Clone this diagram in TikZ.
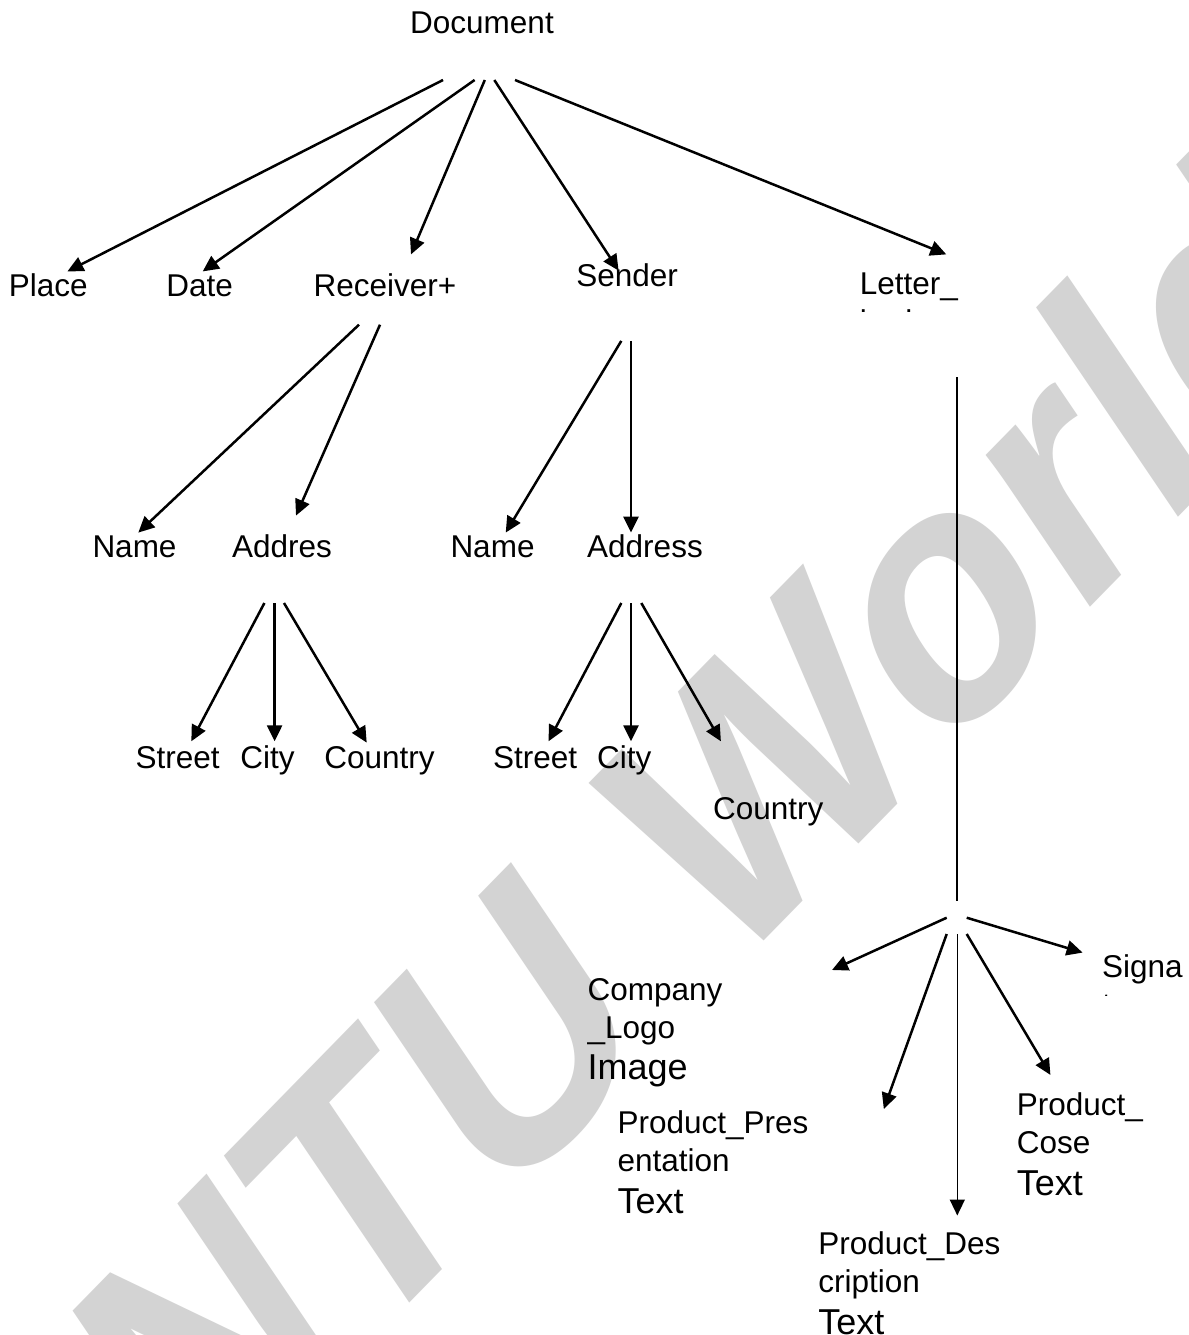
\documentclass[tikz,border=0pt]{standalone}
\usepackage{fontspec}
\setmainfont{Liberation Sans}
\usetikzlibrary{arrows.meta}
\definecolor{wmgray}{RGB}{211,211,211}
\newcommand{\bigtxt}[1]{{\fontsize{36}{42}\selectfont #1}}
\tikzset{
  lbl/.style={inner sep=0pt, anchor=base west, font=\fontsize{31.5}{38}\selectfont},
  % multi-line labels: anchored at the baseline of their LAST line
  multi/.style={lbl, align=left},
  arr/.style={line width=2.5pt, -{Triangle[length=16pt,width=15pt]}},
  thinarr/.style={line width=1.6pt, -{Triangle[length=16pt,width=15pt]}},
  plainline/.style={line width=1.6pt},
  wmark/.style={inner sep=0pt, anchor=base west, text=wmgray,
    font=\fontsize{326}{326}\selectfont\bfseries}
}
\begin{document}
\begin{tikzpicture}[x=1pt,y=-1pt]
\useasboundingbox (0,0) rectangle (1188,1335);
\fill[white] (0,0) rectangle (1188,1335);
% watermark
\begin{scope}
\clip (0,0) rectangle (1188,1335);
\node[wmark, cm={0.699,0.715,-0.6006,0.8864,(0,0)}] (wm) at (192,1526) {NTU World};
\end{scope}

% nodes
\node[lbl, anchor=base] (doc) at (482,34) {Document};
\node[lbl] (place) at (8.6,296) {Place};
\node[lbl] (date) at (166.1,296) {Date};
\node[lbl] (recv) at (313.5,296) {Receiver+};
\node[lbl] (send) at (576.2,286) {Sender};
\begin{scope}
\clip (840,230) rectangle (1000,311);
\node[multi] (letter) at (859.7,332) {Letter\_\\body};
\end{scope}
\node[lbl] (name1) at (92.3,557) {Name};
\node[lbl] (addr1) at (231.8,557) {Addres};
\node[lbl] (name2) at (450.3,557) {Name};
\node[lbl] (addr2) at (587,557) {Address};
\node[lbl] (street1) at (135.5,768) {Street};
\node[lbl] (city1) at (240.1,768) {City};
\node[lbl] (country1) at (324.2,768) {Country};
\node[lbl] (street2) at (492.8,768) {Street};
\node[lbl] (city2) at (596.9,768) {City};
\node[lbl] (country2) at (712.9,819) {Country};
\node[multi] (logo) at (587.4,1079) {Company\\\_Logo\\[3pt]\bigtxt{Image}};
\node[multi] (pres) at (617.4,1213) {Product\_Pres\\entation\\[4pt]\bigtxt{Text}};
\node[multi] (cose) at (1016.6,1195) {Product\_\\Cose\\[4pt]\bigtxt{Text}};
\node[multi] (desc) at (818.1,1334) {Product\_Des\\cription\\[4pt]\bigtxt{Text}};
\begin{scope}
\clip (1090,930) rectangle (1188,995);
\node[multi] (sign) at (1102,1015) {Signa\\ture};
\end{scope}

% connector end points
\coordinate (doc-a) at (443,80);
\coordinate (doc-b) at (474.6,80);
\coordinate (doc-c) at (484.8,80);
\coordinate (doc-d) at (494.3,80);
\coordinate (doc-e) at (515,80);
\coordinate (place-in) at (67.4,271.4);
\coordinate (date-in) at (202.7,271.4);
\coordinate (recv-in) at (411,254.4);
\coordinate (send-in) at (618.6,270.6);
\coordinate (letter-in) at (946.3,254.4);

\coordinate (recv-a) at (359,324.7);
\coordinate (recv-b) at (380,324.7);
\coordinate (name1-in) at (138.3,532.6);
\coordinate (addr1-in) at (296,515.6);

\coordinate (send-a) at (621.3,340.9);
\coordinate (send-b) at (631,340.9);
\coordinate (name2-in) at (505.7,532.6);
\coordinate (addr2-in) at (631,532.6);

\coordinate (letter-out) at (957,377);
\coordinate (hub-top) at (957,901);

\coordinate (addr1-a) at (264.4,603);
\coordinate (addr1-b) at (274.6,603);
\coordinate (addr1-c) at (284,603);
\coordinate (street1-in) at (191.3,741.3);
\coordinate (city1-in) at (274.6,741.3);
\coordinate (country1-in) at (366.7,742.6);

\coordinate (addr2-a) at (621.3,603);
\coordinate (addr2-b) at (631,603);
\coordinate (addr2-c) at (641.3,603);
\coordinate (street2-in) at (548.5,741.3);
\coordinate (city2-in) at (631,741.3);
\coordinate (country2-in) at (720.9,741.3);

\coordinate (hub-l) at (946.7,917.7);
\coordinate (hub-r) at (966.7,917.7);
\coordinate (hub-dl) at (946.7,934);
\coordinate (hub-d) at (957.3,934);
\coordinate (hub-dr) at (966.7,934);
\coordinate (logo-in) at (832,970);
\coordinate (sign-in) at (1082.6,952.6);
\coordinate (pres-in) at (883.8,1109);
\coordinate (desc-in) at (957.3,1215.5);
\coordinate (cose-in) at (1050.4,1074.9);

% connectors
\draw[arr] (doc-a) -- (place-in);
\draw[arr] (doc-b) -- (date-in);
\draw[arr] (doc-c) -- (recv-in);
\draw[arr] (doc-d) -- (send-in);
\draw[arr] (doc-e) -- (letter-in);

\draw[arr] (recv-a) -- (name1-in);
\draw[arr] (recv-b) -- (addr1-in);
\draw[arr] (send-a) -- (name2-in);
\draw[arr] (send-b) -- (addr2-in);

\draw[plainline] (letter-out) -- (hub-top);

\draw[arr] (addr1-a) -- (street1-in);
\draw[arr] (addr1-b) -- (city1-in);
\draw[arr] (addr1-c) -- (country1-in);
\draw[arr] (addr2-a) -- (street2-in);
\draw[arr] (addr2-b) -- (city2-in);
\draw[arr] (addr2-c) -- (country2-in);

\draw[arr] (hub-l) -- (logo-in);
\draw[arr] (hub-r) -- (sign-in);
\draw[arr] (hub-dl) -- (pres-in);
\draw[thinarr] (hub-d) -- (desc-in);
\draw[arr] (hub-dr) -- (cose-in);
\end{tikzpicture}
\end{document}
